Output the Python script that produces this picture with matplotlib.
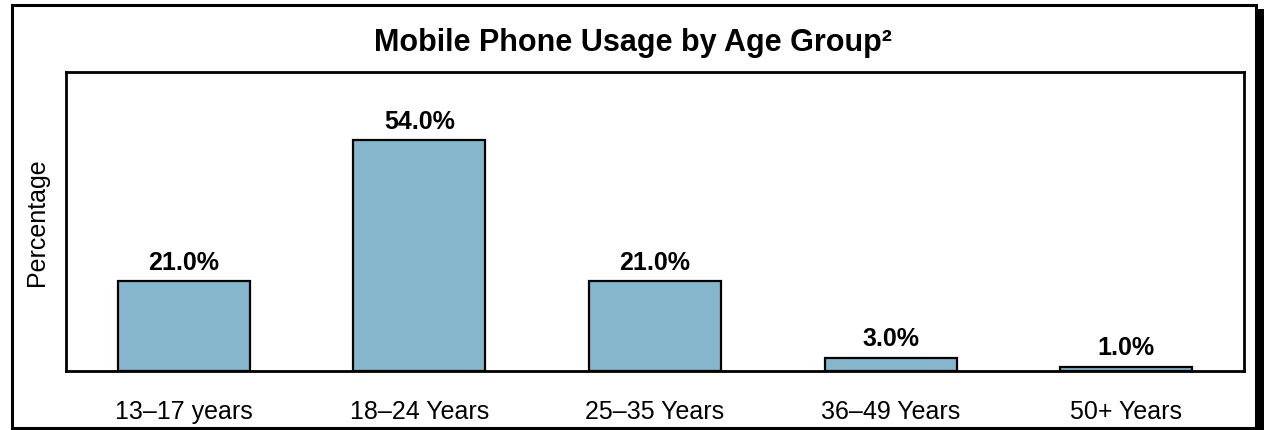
import matplotlib
matplotlib.use("Agg")
import matplotlib.pyplot as plt
from matplotlib.patches import Rectangle

categories = ["13\u201317 years", "18\u201324 Years", "25\u201335 Years", "36\u201349 Years", "50+ Years"]
usage_pct = [21.0, 54.0, 21.0, 3.0, 1.0]

plt.rcParams["font.family"] = ["Liberation Sans", "DejaVu Sans"]

W, H = 1266, 431
fig = plt.figure(figsize=(W / 100, H / 100), dpi=100)

# outer frame with a drop shadow on the right
fig.patches.append(Rectangle((1257 / W, 0), 7 / W, (431 - 10) / H, transform=fig.transFigure,
                             facecolor="black", edgecolor="none", zorder=0))
fig.patches.append(Rectangle((12 / W, (431 - 429) / H), (1256 - 12) / W, (429 - 6) / H,
                             transform=fig.transFigure, facecolor="white", edgecolor="black",
                             linewidth=2.2, zorder=1))

ax = fig.add_axes([66 / W, (431 - 372) / H, (1244 - 66) / W, (372 - 73) / H])
ax.set_zorder(2)
x = range(len(categories))
ax.bar(x, usage_pct, width=0.56, color="#85B6CB", edgecolor="black", linewidth=1.6)
for xi, v in zip(x, usage_pct):
    ax.text(xi, v + 1.8, f"{v:.1f}%", ha="center", va="bottom", fontsize=18, fontweight="bold")

ax.set_xlim(-0.5, 4.5)
ax.set_ylim(0, 70)
ax.set_xticks(list(x))
ax.set_xticklabels(categories, fontsize=18)
ax.tick_params(axis="x", length=0, pad=20)
ax.set_yticks([])
for s in ax.spines.values():
    s.set_linewidth(2)

fig.text(37 / W, (431 - 222) / H, "Percentage", rotation=90, ha="center", va="center", fontsize=18)
fig.text(0.5, (431 - 43) / H, "Mobile Phone Usage by Age Group\u00b2",
         ha="center", va="center", fontsize=22, fontweight="bold")

fig.savefig("out.png", dpi=100)
